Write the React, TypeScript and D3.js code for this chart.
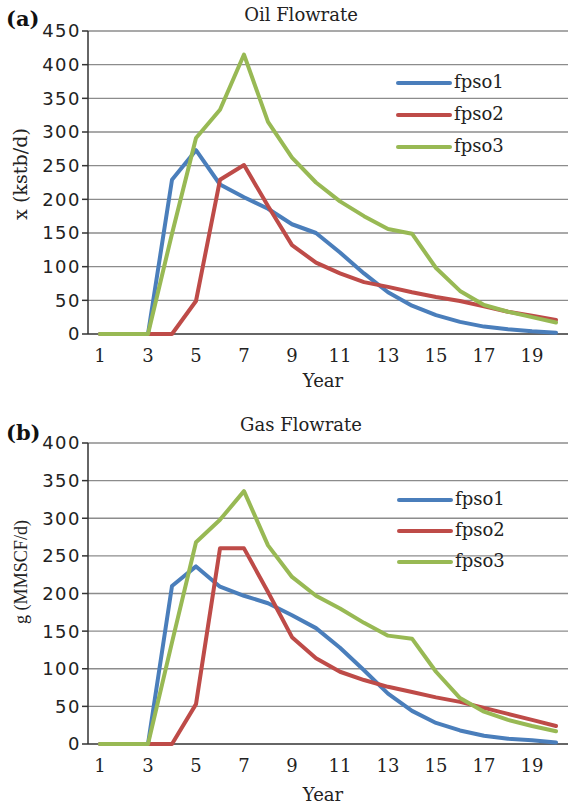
import React from "react";
import * as d3 from "d3";

const years = d3.range(1, 21);
const xTickLabels = [1, 3, 5, 7, 9, 11, 13, 15, 17, 19];
const seriesNames = ["fpso1", "fpso2", "fpso3"];
const seriesColors = ["#4a7ebb", "#be4b48", "#98b954"];

const oilFpso1 = [0, 0, 0, 229, 273, 222, 203, 186, 163, 150, 121, 90, 62, 42, 28, 18, 11, 7, 4, 2];
const oilFpso2 = [0, 0, 0, 0, 49, 229, 251, 190, 132, 106, 90, 77, 70, 62, 55, 49, 41, 33, 27, 21];
const oilFpso3 = [0, 0, 0, 149, 291, 333, 415, 315, 262, 225, 197, 175, 156, 149, 98, 64, 43, 33, 25, 17];
const oilTicks = [0, 50, 100, 150, 200, 250, 300, 350, 400, 450];

const gasFpso1 = [0, 0, 0, 210, 236, 209, 197, 187, 171, 154, 128, 98, 67, 44, 28, 18, 11, 7, 5, 2];
const gasFpso2 = [0, 0, 0, 0, 53, 260, 260, 202, 142, 114, 96, 85, 76, 69, 62, 56, 48, 40, 32, 24];
const gasFpso3 = [0, 0, 0, 135, 268, 298, 336, 264, 222, 197, 180, 161, 144, 140, 96, 61, 43, 32, 24, 17];
const gasTicks = [0, 50, 100, 150, 200, 250, 300, 350, 400];

const SERIF = "'DejaVu Serif', 'Liberation Serif', serif";
const SERIF2 = "'Liberation Serif', 'DejaVu Serif', serif";
const SANS = "'DejaVu Sans', 'Liberation Sans', sans-serif";

type PanelProps = {
  tag: string;
  title: string;
  yLabel: string;
  yLabelLen: number;
  yLabelFont: string;
  yLabelSize: number;
  series: number[][];
  ticks: number[];
  yMax: number;
  top: number;
  bottom: number;
  tagY: number;
  titleY: number;
  tickLabelY: number;
  xTitleY: number;
  yLabelY: number;
  legendX: number;
  legendY: number;
  legendGap: number;
};

function Panel(p: PanelProps) {
  const x = d3.scalePoint<number>().domain(years).range([88, 568]).padding(0.5);
  const y = d3.scaleLinear().domain([0, p.yMax]).range([p.bottom, p.top]);
  const line = d3
    .line<number>()
    .x((_, i) => x(years[i]) as number)
    .y((d) => y(d));
  return (
    <g>
      {p.ticks.slice(1).map((t) => (
        <line key={"g" + t} x1={88} x2={568} y1={y(t)} y2={y(t)} stroke="#8c8c8c" strokeWidth={1.3} />
      ))}
      <line x1={88} x2={88} y1={y(p.yMax)} y2={p.bottom} stroke="#333" strokeWidth={1.5} />
      <line x1={88} x2={568} y1={p.bottom} y2={p.bottom} stroke="#333" strokeWidth={1.5} />
      {p.ticks.map((t) => (
        <g key={"t" + t}>
          <line x1={82} x2={88} y1={y(t)} y2={y(t)} stroke="#333" strokeWidth={1.5} />
          <text
            x={81}
            y={y(t)}
            dy="0.36em"
            textAnchor="end"
            fontFamily={SANS}
            fontSize={18}
            letterSpacing={1.5}
            fill="#222"
          >
            {t}
          </text>
        </g>
      ))}
      {xTickLabels.map((v) => (
        <text
          key={"x" + v}
          x={x(v) as number}
          y={p.tickLabelY}
          dy="0.36em"
          textAnchor="middle"
          fontFamily={SERIF}
          fontSize={18}
          fill="#222"
        >
          {v}
        </text>
      ))}
      {p.series.map((s, i) => (
        <path
          key={"s" + i}
          d={line(s) as string}
          fill="none"
          stroke={seriesColors[i]}
          strokeWidth={4}
          strokeLinejoin="round"
          strokeLinecap="round"
        />
      ))}
      {seriesNames.map((n, i) => (
        <g key={"l" + n}>
          <line
            x1={p.legendX}
            x2={p.legendX + 52}
            y1={p.legendY + i * p.legendGap}
            y2={p.legendY + i * p.legendGap}
            stroke={seriesColors[i]}
            strokeWidth={4}
            strokeLinecap="round"
          />
          <text
            x={p.legendX + 56}
            y={p.legendY + i * p.legendGap}
            dy="0.3em"
            fontFamily={SERIF}
            fontSize={18}
            fill="#222"
          >
            {n}
          </text>
        </g>
      ))}
      <text x={6} y={p.tagY} fontFamily={SERIF} fontWeight="bold" fontSize={21} fill="#111">
        {p.tag}
      </text>
      <text x={301} y={p.titleY} textAnchor="middle" fontFamily={SERIF} fontSize={18} fill="#222">
        {p.title}
      </text>
      <text x={323} y={p.xTitleY} dy="0.36em" textAnchor="middle" fontFamily={SERIF} fontSize={18} fill="#222">
        Year
      </text>
      <text
        transform={`translate(27,${p.yLabelY}) rotate(-90)`}
        textAnchor="middle"
        fontFamily={p.yLabelFont}
        fontSize={p.yLabelSize}
        textLength={p.yLabelLen}
        lengthAdjust="spacingAndGlyphs"
        fill="#222"
      >
        {p.yLabel}
      </text>
    </g>
  );
}

export default function App() {
  return (
    <svg
      width={573}
      height={808}
      style={{ position: "absolute", left: 0, top: 0, background: "#fff" }}
    >
      <rect width={573} height={808} fill="#fff" />
      <Panel
        tag="(a)"
        title="Oil Flowrate"
        yLabel="x (kstb/d)"
        yLabelLen={92}
        yLabelFont={SERIF}
        yLabelSize={19}
        series={[oilFpso1, oilFpso2, oilFpso3]}
        ticks={oilTicks}
        yMax={450}
        top={31}
        bottom={334}
        tagY={26}
        titleY={21}
        tickLabelY={356}
        xTitleY={381}
        yLabelY={174}
        legendX={398}
        legendY={83}
        legendGap={32}
      />
      <Panel
        tag="(b)"
        title="Gas Flowrate"
        yLabel="g (MMSCF/d)"
        yLabelLen={104}
        yLabelFont={SERIF2}
        yLabelSize={19}
        series={[gasFpso1, gasFpso2, gasFpso3]}
        ticks={gasTicks}
        yMax={400}
        top={443}
        bottom={744}
        tagY={440}
        titleY={431}
        tickLabelY={766}
        xTitleY={795}
        yLabelY={572}
        legendX={399}
        legendY={500}
        legendGap={31}
      />
    </svg>
  );
}
